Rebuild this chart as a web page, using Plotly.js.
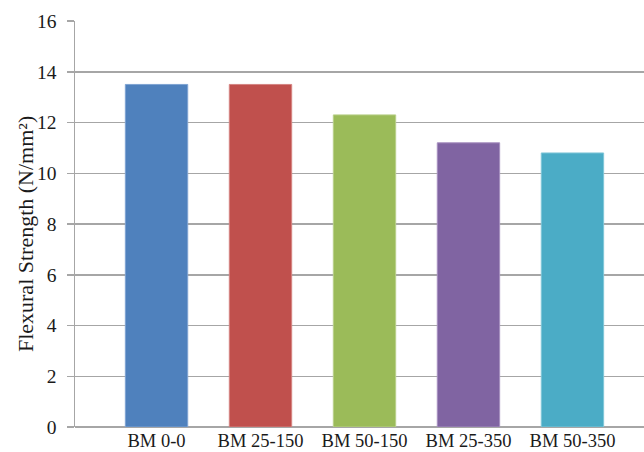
<!DOCTYPE html>
<html>
<head>
<meta charset="utf-8">
<script src="https://cdn.plot.ly/plotly-3.0.1.min.js"></script>
<style>html,body{margin:0;padding:0;background:#fff;}#chart{width:644px;height:452px;}</style>
</head>
<body>
<div id="chart"></div>
<script>
const categories = ["BM 0-0", "BM 25-150", "BM 50-150", "BM 25-350", "BM 50-350"];
const values = [13.5, 13.5, 12.3, 11.2, 10.8];
const barColors = ["#4F81BD", "#C0504D", "#9BBB59", "#8064A2", "#4BACC6"];
const lineColors = ["#7FA3D3", "#D58482", "#B9D08A", "#A790C0", "#80C6D8"];
const yTicks = [0, 2, 4, 6, 8, 10, 12, 14, 16];
const yTitle = "Flexural Strength (N/mm²)";

const trace = {
  type: "bar",
  x: categories,
  y: values,
  width: 0.6,
  marker: { color: barColors, line: { color: lineColors, width: 1 } },
  hoverinfo: "none"
};

const FONT = "Liberation Serif";

const layout = {
  width: 644,
  height: 452,
  margin: { l: 75, r: 0, t: 21, b: 25 },
  paper_bgcolor: "#ffffff",
  plot_bgcolor: "#ffffff",
  showlegend: false,
  font: { family: FONT, color: "#1a1a1a" },
  xaxis: {
    type: "category",
    range: [-0.784, 4.688],
    showgrid: false,
    showline: false,
    ticks: "",
    tickfont: { family: FONT, size: 18.5, color: "#1a1a1a" },
    fixedrange: true
  },
  yaxis: {
    range: [0, 16],
    tickvals: yTicks,
    ticktext: yTicks.map(String),
    showgrid: true,
    gridcolor: "#a6a6a6",
    gridwidth: 1.5,
    zeroline: true,
    zerolinecolor: "#a6a6a6",
    zerolinewidth: 1.5,
    showline: true,
    linecolor: "#a6a6a6",
    linewidth: 1.5,
    ticks: "outside",
    ticklen: 7,
    tickwidth: 1.5,
    tickcolor: "#a6a6a6",
    ticklabelstandoff: 6,
    tickfont: { family: FONT, size: 19.5, color: "#1a1a1a" },
    fixedrange: true
  },
  annotations: [{
    text: yTitle,
    xref: "paper", yref: "paper",
    x: -0.088, y: 0.475,
    xanchor: "center", yanchor: "middle",
    textangle: -90,
    showarrow: false,
    font: { family: FONT, size: 22, color: "#1a1a1a" }
  }]
};

Plotly.newPlot("chart", [trace], layout, { staticPlot: true, displayModeBar: false });
</script>
</body>
</html>
